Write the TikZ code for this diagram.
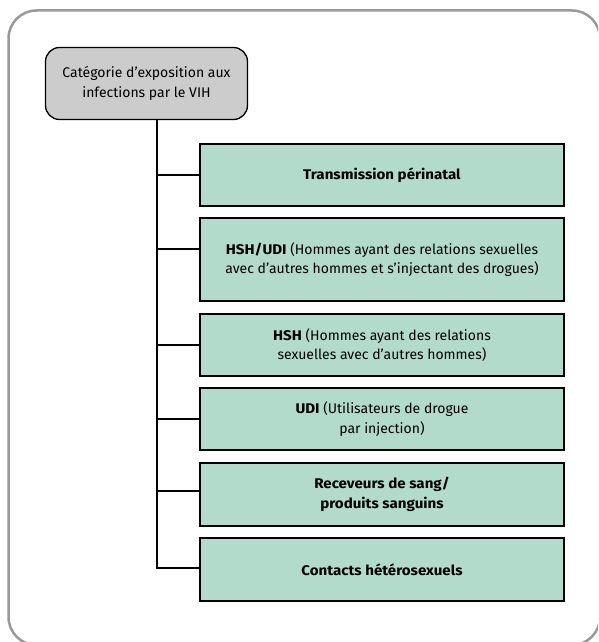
\documentclass[tikz,border=0pt]{standalone}
\usepackage{fontspec}
\setmainfont{Fira Sans}[BoldFeatures={FakeStretch=1.08}]
\definecolor{boxgreen}{RGB}{178,219,203}
\definecolor{headgray}{RGB}{204,204,204}
\definecolor{framegray}{RGB}{153,153,153}
\begin{document}
\begin{tikzpicture}[x=1pt,y=-1pt,
  catbox/.style={draw=black,line width=2pt,fill=boxgreen,minimum width=364pt,
    align=center,inner sep=2pt,font=\fontsize{14}{19.5}\selectfont},
  headbox/.style={draw=black,line width=1.3pt,fill=headgray,rounded corners=14pt,
    minimum width=202pt,minimum height=72pt,align=center,inner sep=2pt,
    font=\fontsize{14}{19.5}\selectfont},
  link/.style={draw=black,line width=1.5pt}]
\useasboundingbox (0,0) rectangle (598,642);
\begin{scope}
\clip (0,0) rectangle (598,642);
\draw[framegray,line width=2.5pt,rounded corners=28pt] (8.5,10.5) rectangle (600,645);
\end{scope}
\node[headbox] (head) at (146.5,83.5) {Catégorie d’exposition aux\\infections par le VIH};
\node[catbox,minimum height=62pt] (b1) at (382,175) {\textbf{Transmission périnatal}};
\node[catbox,minimum height=83pt] (b2) at (382,259.5) {\textbf{HSH/UDI} (Hommes ayant des relations sexuelles\\avec d’autres hommes et s’injectant des drogues)};
\node[catbox,minimum height=62pt] (b3) at (382,345) {\textbf{HSH} (Hommes ayant des relations\\sexuelles avec d’autres hommes)};
\node[catbox,minimum height=62pt] (b4) at (382,419) {\textbf{UDI} (Utilisateurs de drogue\\par injection)};
\node[catbox,minimum height=63pt] (b5) at (382,494.5) {\textbf{Receveurs de sang/}\\\textbf{produits sanguins}};
\node[catbox,minimum height=63pt] (b6) at (382,569.5) {\textbf{Contacts hétérosexuels}};
\coordinate (trunkend) at (157,568);
\coordinate (c2) at ([yshift=10.5pt]b2.west);
\coordinate (c5) at ([yshift=3.5pt]b5.west);
\coordinate (c6) at ([yshift=1.5pt]b6.west);
\draw[link] (head.south -| trunkend) -- (trunkend) -- (c6);
\draw[link] (trunkend |- b1.west) -- (b1.west);
\draw[link] (trunkend |- c2) -- (c2);
\draw[link] (trunkend |- b3.west) -- (b3.west);
\draw[link] (trunkend |- b4.west) -- (b4.west);
\draw[link] (trunkend |- c5) -- (c5);
\end{tikzpicture}
\end{document}
